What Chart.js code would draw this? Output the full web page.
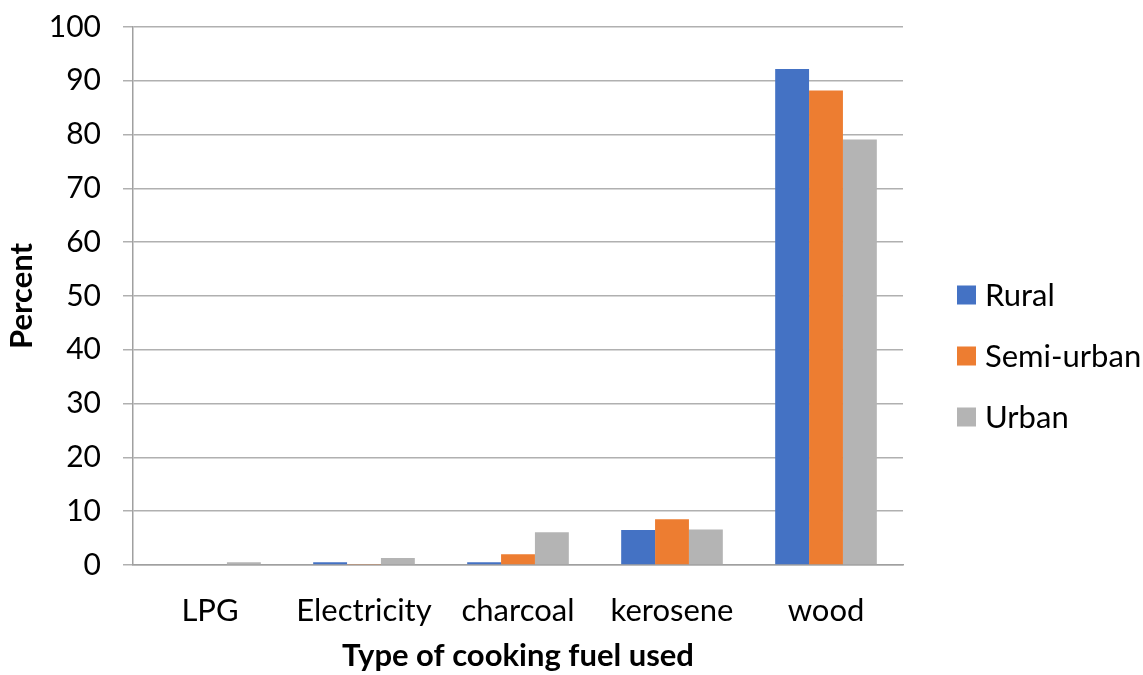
<!DOCTYPE html>
<html>
<head>
<meta charset="utf-8">
<script src="https://cdn.jsdelivr.net/npm/chart.js@4"></script>
<style>
  html, body { margin: 0; padding: 0; background: #fff; }
  #wrap { width: 1143px; height: 675px; position: relative; }
</style>
</head>
<body>
<div id="wrap"><canvas id="c" width="1143" height="675"></canvas></div>
<script>
const categories = ['LPG', 'Electricity', 'charcoal', 'kerosene', 'wood'];
const rural = [0, 0.5, 0.5, 6.5, 92.2];
const semiUrban = [0, 0.2, 2.0, 8.5, 88.2];
const urban = [0.5, 1.3, 6.1, 6.6, 79.1];
const seriesNames = ['Rural', 'Semi-urban', 'Urban'];
const colors = ['#4472C4', '#ED7D31', '#B4B4B4'];

const FONT = 'Lato, "Open Sans", sans-serif';
Chart.defaults.font.family = FONT;
Chart.defaults.color = '#000';

// Legend drawn beside the plot: square swatch + series name, one row per dataset
const sideLegend = {
  id: 'sideLegend',
  afterDraw(chart) {
    const { ctx, chartArea } = chart;
    const boxX = chartArea.right + 54;
    const textX = chartArea.right + 82;
    const firstRowY = chartArea.top + 268;
    const rowGap = 61;
    const box = 19;
    ctx.save();
    ctx.font = '31px ' + FONT;
    ctx.textBaseline = 'middle';
    chart.data.datasets.forEach((ds, i) => {
      const y = firstRowY + i * rowGap;
      ctx.fillStyle = ds.backgroundColor;
      ctx.fillRect(boxX, y - box / 2, box, box);
      ctx.fillStyle = '#000';
      ctx.fillText(ds.label, textX, y + 1);
    });
    ctx.restore();
  }
};

new Chart(document.getElementById('c'), {
  type: 'bar',
  data: {
    labels: categories,
    datasets: [rural, semiUrban, urban].map((d, i) => ({
      label: seriesNames[i],
      data: d,
      backgroundColor: colors[i],
      borderWidth: 0,
      categoryPercentage: 0.66,
      barPercentage: 1.0
    }))
  },
  options: {
    responsive: false,
    animation: false,
    layout: { padding: { top: 27, right: 240, left: 0, bottom: 0 } },
    plugins: {
      legend: { display: false },
      tooltip: { enabled: false }
    },
    scales: {
      x: {
        afterFit: s => { s.height = 110; s.paddingLeft = 0; s.paddingRight = 0; },
        grid: { display: false, drawTicks: false },
        border: { color: '#A0A0A0', width: 1.5 },
        ticks: { font: { size: 31 }, padding: 27, color: '#000' },
        title: { display: true, text: 'Type of cooking fuel used', font: { size: 31, weight: 'bold' }, color: '#000', padding: { top: 0, bottom: 0 } }
      },
      y: {
        afterFit: s => { s.width = 133; s.paddingTop = 0; s.paddingBottom = 0; },
        min: 0, max: 100,
        ticks: { stepSize: 10, font: { size: 30 }, padding: 22, color: '#000' },
        grid: { color: '#B0B0B0', lineWidth: 1.5, tickLength: 10 },
        border: { color: '#A0A0A0', width: 1.5 },
        title: { display: true, text: 'Percent', font: { size: 31, weight: 'bold' }, color: '#000', padding: { top: 3, bottom: 0 } }
      }
    }
  },
  plugins: [sideLegend]
});
</script>
</body>
</html>
